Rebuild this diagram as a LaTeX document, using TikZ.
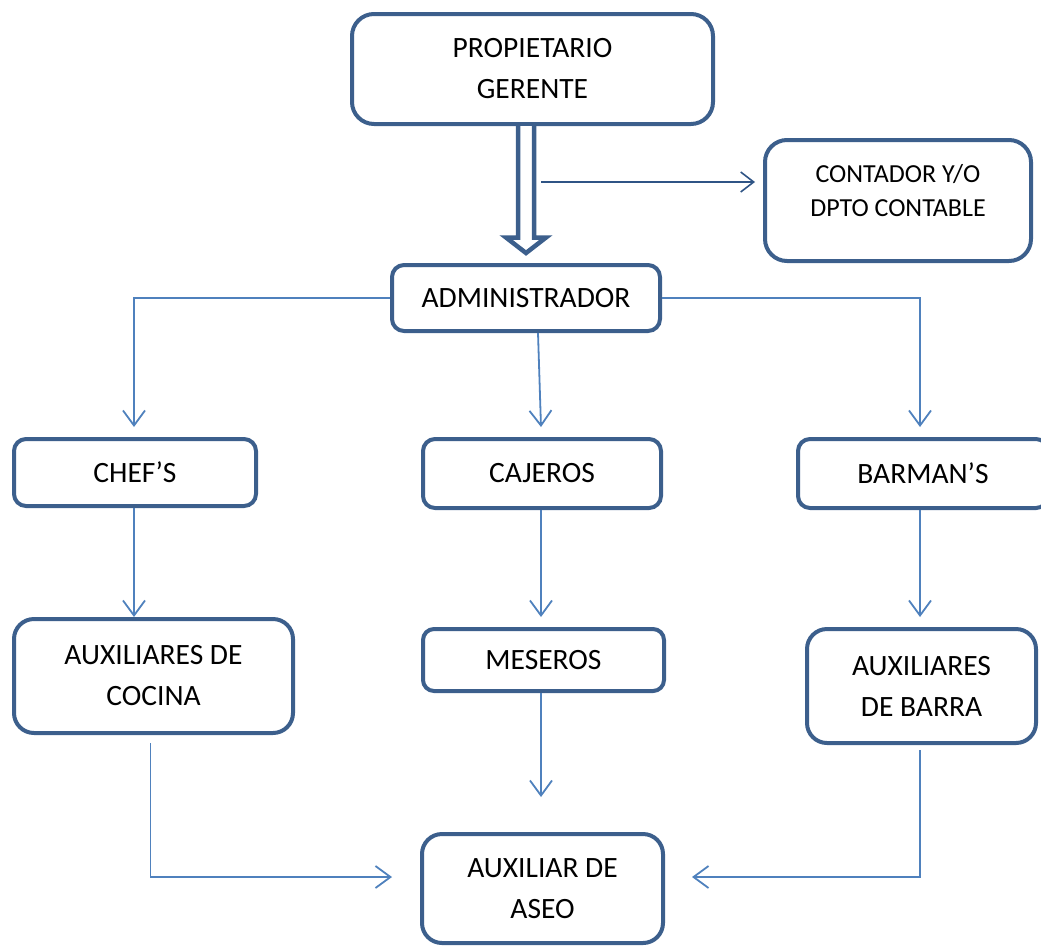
\documentclass[tikz,border=0pt]{standalone}
\usepackage{fontspec}
\setmainfont{Carlito}
\usetikzlibrary{arrows.meta,calc}
\definecolor{boxblue}{HTML}{3C5F8C}
\definecolor{linkblue}{HTML}{4F81BD}
\definecolor{darkline}{HTML}{2F5485}
\tikzset{
  orgbox/.style={draw=boxblue, line width=4pt, fill=white, rounded corners=#1,
    inner sep=0pt, align=center, font=\fontsize{29.5}{41}\selectfont},
  orgbox/.default=12pt,
  conn/.style={draw=linkblue, line width=1.8pt,
    -{Straight Barb[length=15pt,width=22pt]}},
  contarrow/.style={draw=darkline, line width=1.6pt,
    -{Straight Barb[length=13pt,width=20pt]}},
  dblarrow/.style={draw=boxblue, line width=4.5pt, fill=white, line join=miter},
}
\begin{document}
\begin{tikzpicture}[x=1pt,y=-1pt]
\useasboundingbox (0,0) rectangle (1041,946);
\clip (0,0) rectangle (1041,946);

\node[orgbox=22pt, minimum width=361pt, minimum height=110pt] (prop) at (532.5,69) {PROPIETARIO\\GERENTE};
\node[orgbox=22pt, minimum width=266pt, minimum height=121pt] (cont) at (898,200.5) {};
\node[font=\fontsize{26}{34}\selectfont, align=center, inner sep=0pt] (conttext) at ($(cont.center)+(0,-10)$) {CONTADOR Y/O\\DPTO CONTABLE};
\node[orgbox=12pt, minimum width=268pt, minimum height=66pt] (admin) at (526,298) {ADMINISTRADOR};
\node[orgbox=12pt, minimum width=242pt, minimum height=67pt] (chef) at (135,472.5) {CHEF’S};
\node[orgbox=12pt, minimum width=238pt, minimum height=69pt] (cajeros) at (542,473.5) {CAJEROS};
\node[orgbox=12pt, minimum width=250pt, minimum height=69pt] (barman) at (923,473.5) {BARMAN’S};
\node[orgbox=20pt, minimum width=279pt, minimum height=114pt] (auxcoc) at (153.5,676) {AUXILIARES DE\\COCINA};
\node[orgbox=11pt, minimum width=241pt, minimum height=62pt] (meseros) at (543.5,660) {MESEROS};
\node[orgbox=20pt, minimum width=229pt, minimum height=114pt] (auxbarra) at (921.5,686) {AUXILIARES\\DE BARRA};
\node[orgbox=20pt, minimum width=241pt, minimum height=109pt] (aseo) at (542.5,888.5) {AUXILIAR DE\\ASEO};

% double arrow from propietario to administrador
\coordinate (d0) at (admin.north |- prop.south);
\draw[dblarrow] ($(d0)+(-8,0)$) -- ++(0,111.5) -- ++(-12,0) -- ++(20,15.5)
  -- ++(20,-15.5) -- ++(-12,0) -- ++(0,-111.5);

% arrow to contador
\coordinate (cs) at (541,182);
\draw[contarrow] (cs) -- ($(cont.west |- cs)+(-8,0)$);

% administrador to second row
\draw[conn] (admin.west) -| ($(chef.north)+(-1,-10)$);
\draw[conn] (admin.east) -| ($(barman.north)+(-3,-10)$);
\draw[conn] ($(admin.south)+(12,0)$) -- ($(cajeros.north)+(-1,-10)$);

% second row to third row
\draw[conn] ($(chef.south)+(-1,0)$) -- ($(chef.south |- auxcoc.north)+(-1,0)$);
\draw[conn] ($(cajeros.south)+(-1,0)$) -- ($(cajeros.south |- meseros.north)+(-1,-10)$);
\draw[conn] ($(barman.south)+(-3,0)$) -- ($(barman.south |- auxbarra.north)+(-3,-10)$);

% to auxiliar de aseo
\draw[conn] ($(meseros.south)+(-2.5,0)$) -- ($(meseros.south |- aseo.north)+(-2.5,-35)$);
\coordinate (a1) at ($(auxcoc.south)+(-3,8)$);
\draw[conn] (a1) |- ($(aseo.west)+(-28,-11.5)$);
\coordinate (a2) at ($(auxbarra.south)+(-1.5,5)$);
\draw[conn] (a2) |- ($(aseo.east)+(27,-11.5)$);
\end{tikzpicture}
\end{document}
